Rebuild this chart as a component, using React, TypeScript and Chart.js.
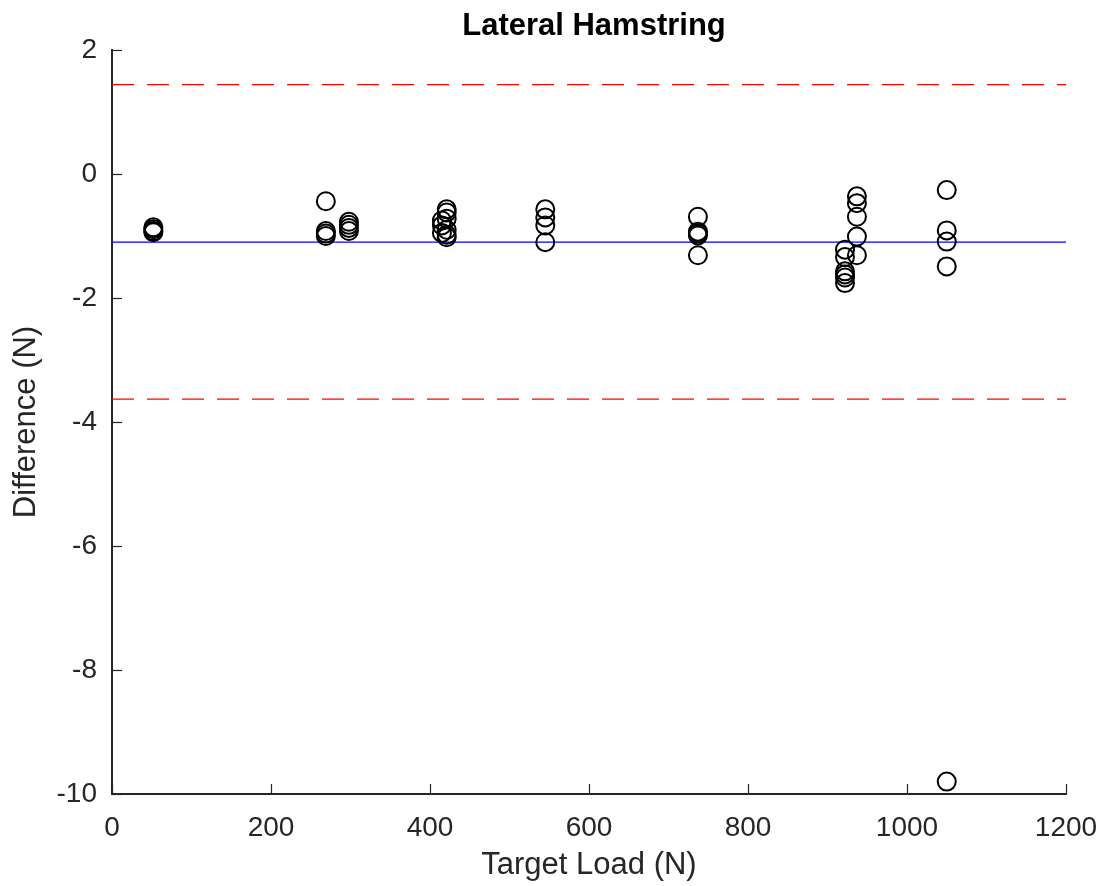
import React, { useEffect, useRef } from "react";
import { Chart, registerables } from "chart.js";

Chart.register(...registerables);

const targetLoad: number[] = [
  52, 52, 52, 52,
  269, 269, 269, 269,
  298, 298, 298, 298,
  415, 415, 415,
  421, 421, 421, 421, 421, 421,
  545, 545, 545, 545,
  737, 737, 737, 737, 737,
  922, 922, 922, 922, 922, 922,
  937, 937, 937, 937, 937,
  1050, 1050, 1050, 1050, 1050,
];
const difference: number[] = [
  -0.86, -0.89, -0.92, -0.94,
  -0.44, -0.92, -0.96, -1.0,
  -0.77, -0.82, -0.87, -0.92,
  -0.75, -0.83, -0.95,
  -0.57, -0.62, -0.72, -0.9, -0.98, -1.02,
  -0.57, -0.7, -0.83, -1.1,
  -0.69, -0.93, -0.96, -0.99, -1.31,
  -1.22, -1.34, -1.57, -1.62, -1.67, -1.76,
  -0.36, -0.47, -0.69, -1.01, -1.31,
  -0.26, -0.91, -1.09, -1.49, -9.8,
];
const meanDiff = -1.1;
const upperLimit = 1.44;
const lowerLimit = -3.63;
const xRange: number[] = [0, 1200];
const xTicks: number[] = [0, 200, 400, 600, 800, 1000, 1200];
const yTicks: number[] = [2, 0, -2, -4, -6, -8, -10];

const chartTitle = "Lateral Hamstring";
const xTitle = "Target Load (N)";
const yTitle = "Difference (N)";

const FONT = "'Liberation Sans', Arial, Helvetica, sans-serif";
const AXIS_COLOR = "#262626";

const inwardTicks = {
  id: "inwardTicks",
  afterDraw(chart: any) {
    const { ctx, chartArea, scales } = chart;
    ctx.save();
    ctx.strokeStyle = AXIS_COLOR;
    ctx.lineWidth = 1.2;
    const xs = scales.x;
    const ys = scales.y;
    xTicks.forEach((v) => {
      const px = Math.round(xs.getPixelForValue(v)) + 0.5;
      ctx.beginPath();
      ctx.moveTo(px, chartArea.bottom);
      ctx.lineTo(px, chartArea.bottom - 10);
      ctx.stroke();
    });
    yTicks.forEach((v) => {
      const py = Math.round(ys.getPixelForValue(v)) + 0.5;
      ctx.beginPath();
      ctx.moveTo(chartArea.left, py);
      ctx.lineTo(chartArea.left + 10, py);
      ctx.stroke();
    });
    ctx.fillStyle = "#000000";
    ctx.font = `bold 31px ${FONT}`;
    ctx.textAlign = "center";
    ctx.textBaseline = "middle";
    ctx.fillText(chartTitle, (chartArea.left + chartArea.right) / 2 + 5, 26);
    ctx.restore();
  },
};

export default function App() {
  const ref = useRef<HTMLCanvasElement | null>(null);

  useEffect(() => {
    document.body.style.margin = "0";
    if (!ref.current) return;
    const pts = targetLoad.map((x, i) => ({ x, y: difference[i] }));
    const chart = new Chart(ref.current, {
      type: "scatter",
      data: {
        datasets: [
          {
            type: "line",
            label: "Mean",
            data: xRange.map((x) => ({ x, y: meanDiff })),
            borderColor: "#0000ff",
            borderWidth: 1.3,
            pointRadius: 0,
            order: 2,
          },
          {
            type: "line",
            label: "Upper",
            data: xRange.map((x) => ({ x, y: upperLimit })),
            borderColor: "#ff0000",
            borderWidth: 1.3,
            borderDash: [22, 13],
            pointRadius: 0,
            order: 2,
          },
          {
            type: "line",
            label: "Lower",
            data: xRange.map((x) => ({ x, y: lowerLimit })),
            borderColor: "#ff0000",
            borderWidth: 1.3,
            borderDash: [22, 13],
            pointRadius: 0,
            order: 2,
          },
          {
            label: "Data",
            data: pts,
            pointStyle: "circle",
            pointRadius: 9,
            pointBorderWidth: 2,
            borderColor: "#000000",
            backgroundColor: "rgba(0,0,0,0)",
            pointBackgroundColor: "rgba(0,0,0,0)",
            order: 1,
          } as any,
        ],
      },
      options: {
        animation: false,
        responsive: false,
        maintainAspectRatio: false,
        layout: { padding: { left: 0, right: 38, top: 50, bottom: 0 } },
        plugins: {
          legend: { display: false },
          tooltip: { enabled: false },
          title: { display: false },
        },
        scales: {
          x: {
            type: "linear",
            min: 0,
            max: 1200,
            afterFit: (s: any) => {
              s.height = 92;
              s.paddingLeft = 0;
              s.paddingRight = 0;
            },
            afterBuildTicks: (s: any) => {
              s.ticks = xTicks.map((v) => ({ value: v }));
            },
            grid: { display: false, drawTicks: false },
            border: { display: true, color: AXIS_COLOR, width: 2 },
            ticks: {
              color: AXIS_COLOR,
              font: { family: FONT, size: 28 },
              padding: 17,
              maxRotation: 0,
              autoSkip: false,
              callback: (v: any) => String(v),
            },
            title: {
              display: true,
              text: xTitle,
              color: AXIS_COLOR,
              font: { family: FONT, size: 31, lineHeight: 1 },
              padding: { top: 0, bottom: 5 },
            },
          },
          y: {
            type: "linear",
            min: -10,
            max: 2,
            afterFit: (s: any) => {
              s.width = 112;
              s.paddingTop = 0;
              s.paddingBottom = 0;
            },
            afterBuildTicks: (s: any) => {
              s.ticks = yTicks.map((v) => ({ value: v }));
            },
            grid: { display: false, drawTicks: false },
            border: { display: true, color: AXIS_COLOR, width: 2 },
            ticks: {
              color: AXIS_COLOR,
              font: { family: FONT, size: 28 },
              padding: 15,
              autoSkip: false,
              callback: (v: any) => String(v),
            },
            title: {
              display: true,
              text: yTitle,
              color: AXIS_COLOR,
              font: { family: FONT, size: 31, lineHeight: 1 },
              padding: { top: 11, bottom: 0 },
            },
          },
        },
      },
      plugins: [inwardTicks],
    });
    return () => chart.destroy();
  }, []);

  return (
    <div style={{ width: 1104, height: 886, background: "#fff" }}>
      <canvas ref={ref} width={1104} height={886} style={{ display: "block" }} />
    </div>
  );
}
